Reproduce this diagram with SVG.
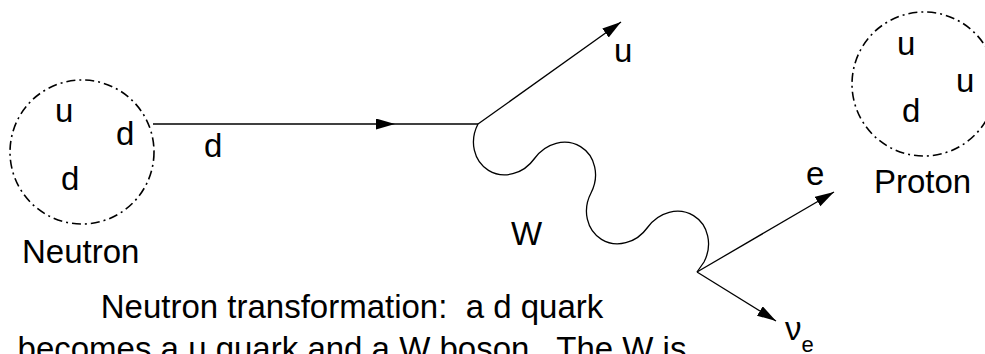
<svg xmlns="http://www.w3.org/2000/svg" width="985" height="354" viewBox="0 0 985 354">
<style>
text{font-family:"Liberation Sans",Arial,sans-serif;font-size:33px;fill:#000}
.sub{font-size:22px}
.hadron{fill:none;stroke:#000;stroke-width:1.6;stroke-dasharray:9 4 2 4}
.line{fill:none;stroke:#000;stroke-width:1.3}
</style>
<defs>
<marker id="ah" markerUnits="userSpaceOnUse" markerWidth="20" markerHeight="12" refX="19" refY="5.5" orient="auto">
<path d="M0,0 L19,5.5 L0,11 Z" fill="#000"/>
</marker>
</defs>
<g id="neutron">
<circle class="hadron" cx="82" cy="152" r="72"/>
<text x="55" y="122">u</text>
<text x="116" y="145">d</text>
<text x="61" y="190">d</text>
<text x="22" y="263">Neutron</text>
</g>
<g id="proton">
<circle class="hadron" cx="924" cy="84" r="72"/>
<text x="897" y="55">u</text>
<text x="956" y="92">u</text>
<text x="902" y="122">d</text>
<text x="874" y="193">Proton</text>
</g>
<g id="connectors">
<path class="line" d="M153,124 L395,124" marker-end="url(#ah)"/>
<path class="line" d="M395,124 L478,124"/>
<path class="line" d="M478,124 L621,22" marker-end="url(#ah)"/>
<path class="line" d="M478,124 A33.2,37 31.4 0 0 534.5,158.5 A33.2,37 31.4 0 1 591,193 A33.2,37 31.4 0 0 647.5,227.5 A33.2,37 31.4 0 1 704,262 L697,272"/>
<path class="line" d="M697,272 L834,192" marker-end="url(#ah)"/>
<path class="line" d="M697,272 L776,321" marker-end="url(#ah)"/>
</g>
<g id="labels">
<text x="204" y="157">d</text>
<text x="614" y="62">u</text>
<text x="511" y="245">W</text>
<text x="806" y="185">e</text>
<text x="785" y="340">ν<tspan class="sub" dy="12">e</tspan></text>
<text text-anchor="middle" x="352" y="318" xml:space="preserve">Neutron transformation:  a d quark</text>
<text text-anchor="middle" x="352" y="360" xml:space="preserve">becomes a u quark and a W boson.  The W is</text>
</g>
</svg>
